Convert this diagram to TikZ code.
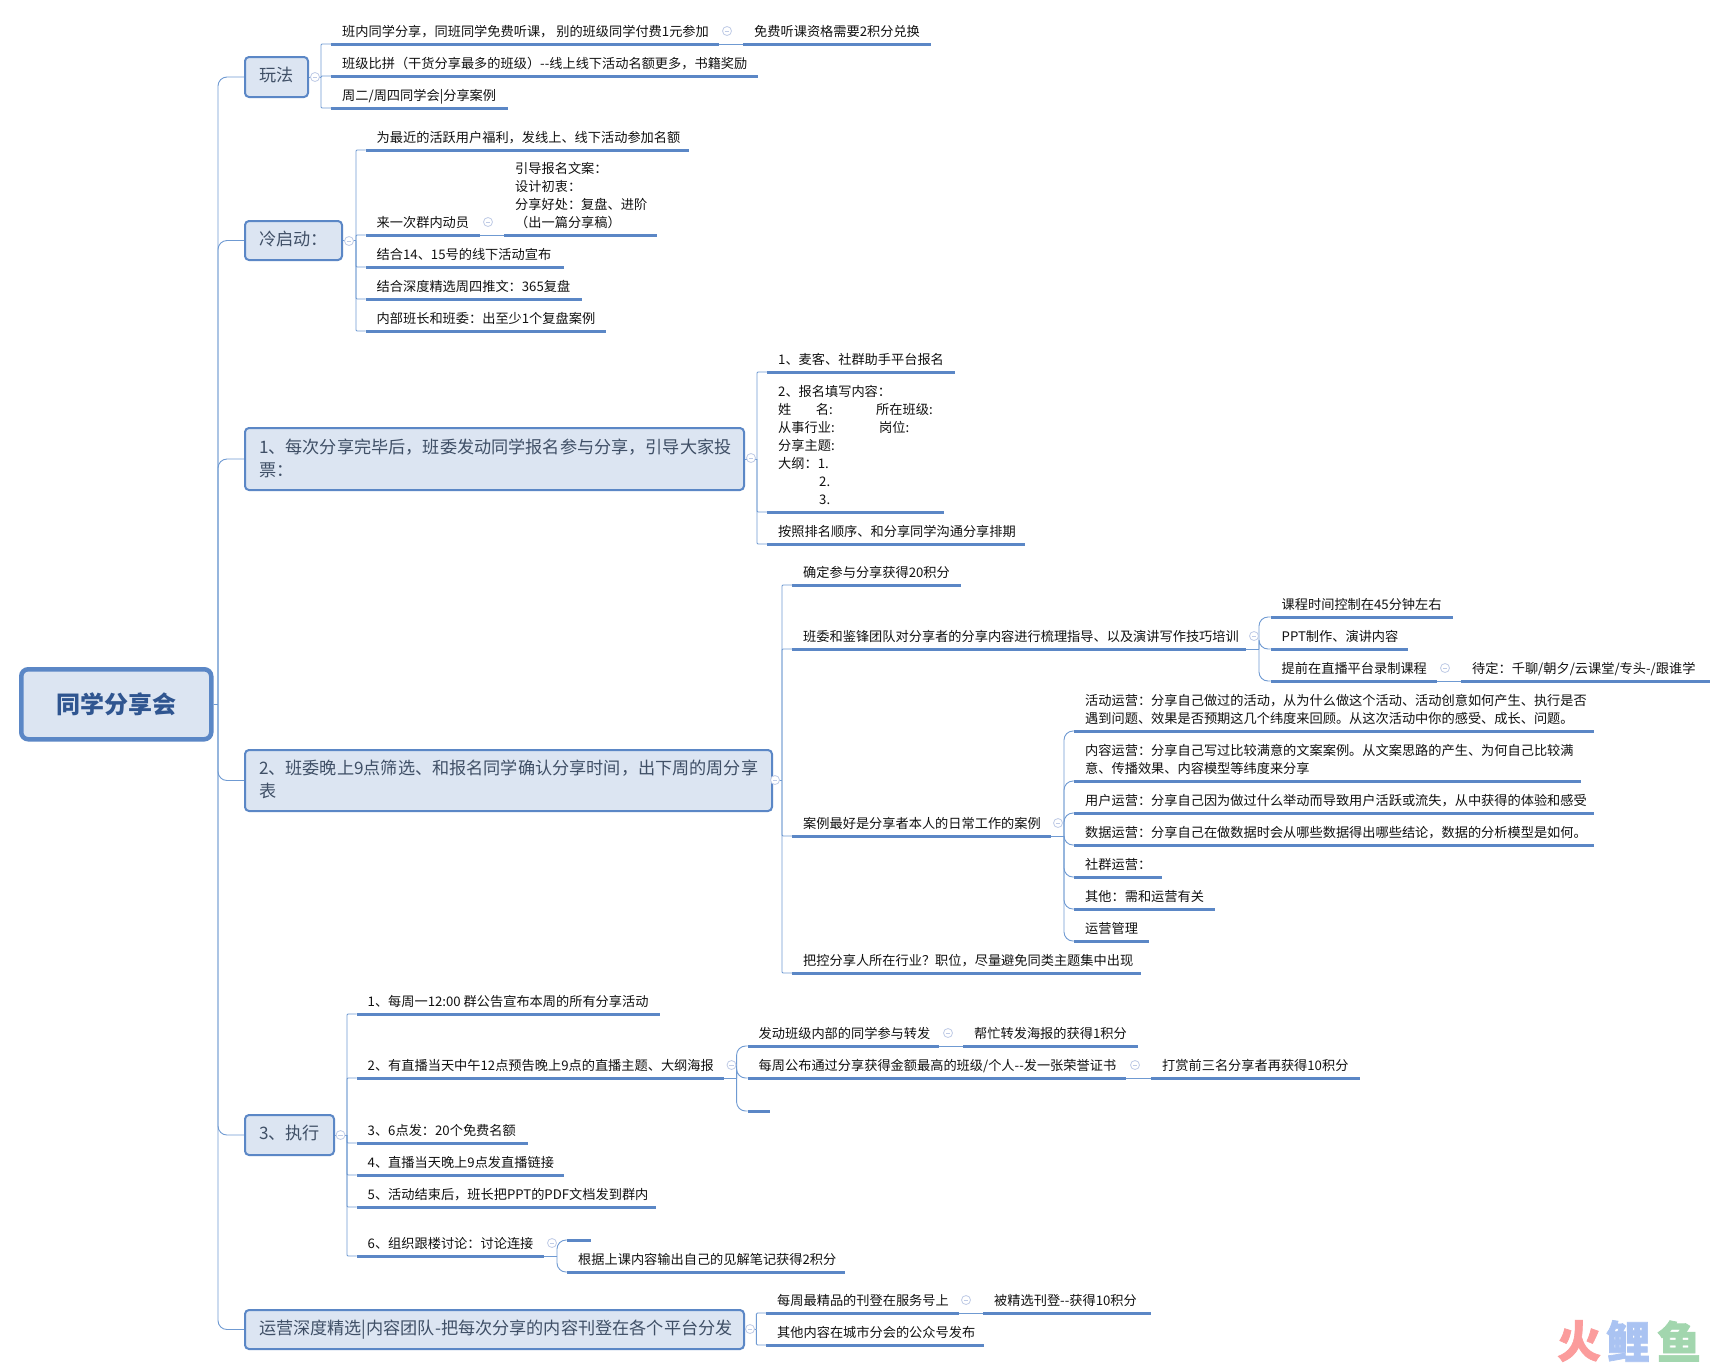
\documentclass[tikz,border=0pt]{standalone}
\usepackage{fontspec}
\setmainfont{Noto Sans CJK SC}
\definecolor{barblue}{HTML}{5B87C6}
\definecolor{linkblue}{HTML}{6F9AD2}
\definecolor{boxfill}{HTML}{DCE5F2}
\definecolor{boxtext}{HTML}{3F4F66}
\definecolor{roottext}{HTML}{2F5590}
\definecolor{leaftext}{HTML}{111111}
\definecolor{iconblue}{HTML}{BFCBE6}
\definecolor{wmred}{HTML}{FB9C9C}
\definecolor{wmblue}{HTML}{AAC3F2}
\definecolor{wmgreen}{HTML}{A2D6AE}
\tikzset{
  leafnode/.style={anchor=south west,inner xsep=0pt,inner ysep=1.6pt,text=leaftext,font=\fontsize{13.2}{18}\selectfont},
  barline/.style={draw=barblue,line width=3pt},
  conn/.style={draw=linkblue,line width=0.9pt},
  sharp/.style={conn,rounded corners=1pt},
  curved/.style={conn,rounded corners=9pt},
  topicbox/.style={draw=barblue,line width=2pt,fill=boxfill,rounded corners=4pt,anchor=north west,inner sep=0pt,text=boxtext,font=\fontsize{17.15}{23.3}\selectfont},
  rootbox/.style={draw=barblue,line width=4.5pt,fill=boxfill,rounded corners=7pt,anchor=north west,inner sep=0pt,text=roottext,font=\fontsize{24}{28}\selectfont\bfseries},
  iconnode/.style={circle,draw=iconblue,line width=0.8pt,fill=white,minimum size=9pt,inner sep=0pt},
  wmark/.style={text=#1,font=\fontsize{44}{44}\selectfont\bfseries\addfontfeature{FakeBold=1.5},inner sep=0pt}
}
\newcommand{\leafn}[5]{%
  \pgfmathsetmacro\mywd{#3-#2}%
  \node[leafnode] (#1) at (#2,#4) {\makebox[\mywd pt][l]{\hspace*{11pt}\begin{tabular}[b]{@{}l@{}}#5\end{tabular}}};
  \draw[barline] (#1.south west) -- (#1.south east);}
\newcommand{\topicn}[6]{%
  \pgfmathsetmacro\mywd{#3-#2}\pgfmathsetmacro\myht{#5-#4}%
  \node[topicbox,minimum width=\mywd pt,minimum height=\myht pt] (#1) at (#2,#4) {\makebox[\mywd pt][l]{\hspace*{14pt}\begin{tabular}[c]{@{}l@{}}#6\end{tabular}}};}
\newcommand{\iconn}[3]{%
  \node[iconnode] (#1) at (#2,#3) {};
  \draw[draw=iconblue,line width=0.8pt] ([xshift=-2.2pt]#1.center) -- ([xshift=2.2pt]#1.center);}
% style, parent point, trunk coordinate, child point
\newcommand{\linkn}[4]{\draw[conn] (#2) -- (#3 |- #2);\draw[#1] (#3 |- #2) -- (#3 |- #4) -- (#4);}
\begin{document}
\begin{tikzpicture}[x=1pt,y=-1pt]
\useasboundingbox (0,0) rectangle (1723,1366);
\fill[white] (0,0) rectangle (1723,1366);
% root and topics
\node[rootbox,minimum width=190pt,minimum height=70pt,align=center] (root) at (19,667) {同学分享会};
\topicn{t1}{244}{307}{56}{96}{玩法}
\topicn{t2}{244}{341}{220}{259}{冷启动：}
\topicn{t3}{244}{743}{427}{489}{\rule{0pt}{18.3pt}1、每次分享完毕后，班委发动同学报名参与分享，引导大家投\\票：}
\topicn{t4}{244}{771}{749}{810}{\rule{0pt}{18.3pt}2、班委晚上9点筛选、和报名同学确认分享时间，出下周的周分享\\表}
\topicn{t5}{244}{333}{1114}{1154}{3、执行}
\topicn{t6}{244}{743}{1309}{1348}{运营深度精选|内容团队-把每次分享的内容刊登在各个平台分发}
% group 1
\leafn{a1}{331}{719}{44}{班内同学分享，同班同学免费听课， 别的班级同学付费1元参加}
\leafn{a1x}{743}{931}{44}{免费听课资格需要2积分兑换}
\leafn{a2}{331}{758}{76}{班级比拼（干货分享最多的班级）-{}-线上线下活动名额更多，书籍奖励}
\leafn{a3}{331}{508}{108}{周二/周四同学会|分享案例}
% group 2
\leafn{b1}{365.5}{689}{150}{为最近的活跃用户福利，发线上、线下活动参加名额}
\leafn{b2}{365.5}{480}{235}{来一次群内动员}
\leafn{b2x}{504}{657}{235}{引导报名文案：\\设计初衷：\\分享好处：复盘、进阶\\（出一篇分享稿）}
\leafn{b3}{365.5}{564}{267}{结合14、15号的线下活动宣布}
\leafn{b4}{365.5}{582}{299}{结合深度精选周四推文：365复盘}
\leafn{b5}{365.5}{605.5}{331}{内部班长和班委：出至少1个复盘案例}
% group 3
\leafn{c1}{767}{955}{372}{1、麦客、社群助手平台报名}
\leafn{c2}{767}{944}{512}{2、报名填写内容：\\\makebox[98pt][l]{姓\hspace{24.4pt}名:}所在班级:\\\makebox[101pt][l]{从事行业:}岗位:\\分享主题:\\大纲：1.\\\hspace*{41pt}2.\\\hspace*{41pt}3.}
\leafn{c3}{767}{1025}{544}{按照排名顺序、和分享同学沟通分享排期}
% group 4
\leafn{d1}{792}{961}{585}{确定参与分享获得20积分}
\leafn{d2}{792}{1246}{649}{班委和鉴锋团队对分享者的分享内容进行梳理指导、以及演讲写作技巧培训}
\leafn{d21}{1270.5}{1453}{617}{课程时间控制在45分钟左右}
\leafn{d22}{1270.5}{1408}{649}{PPT制作、演讲内容}
\leafn{d23}{1270.5}{1437}{681}{提前在直播平台录制课程}
\leafn{d23x}{1461}{1710}{681}{待定：千聊/朝夕/云课堂/专头-/跟谁学}
\leafn{d3}{792}{1051}{836}{案例最好是分享者本人的日常工作的案例}
\leafn{d31}{1074}{1594}{731}{活动运营：分享自己做过的活动，从为什么做这个活动、活动创意如何产生、执行是否\\遇到问题、效果是否预期这几个纬度来回顾。从这次活动中你的感受、成长、问题。}
\leafn{d32}{1074}{1581}{781}{内容运营：分享自己写过比较满意的文案案例。从文案思路的产生、为何自己比较满\\意、传播效果、内容模型等纬度来分享}
\leafn{d33}{1074}{1594}{813}{用户运营：分享自己因为做过什么举动而导致用户活跃或流失，从中获得的体验和感受}
\leafn{d34}{1074}{1594}{845}{数据运营：分享自己在做数据时会从哪些数据得出哪些结论，数据的分析模型是如何。}
\leafn{d35}{1074}{1162}{877}{社群运营：}
\leafn{d36}{1074}{1215}{909}{其他：需和运营有关}
\leafn{d37}{1074}{1149}{941}{运营管理}
\leafn{d4}{792}{1141}{973}{把控分享人所在行业？职位，尽量避免同类主题集中出现}
% group 5
\leafn{e1}{356.5}{660}{1014}{1、每周一12:00 群公告宣布本周的所有分享活动}
\leafn{e2}{356.5}{724}{1078}{2、有直播当天中午12点预告晚上9点的直播主题、大纲海报}
\leafn{e21}{747.5}{939}{1046}{发动班级内部的同学参与转发}
\leafn{e21x}{963}{1138}{1046}{帮忙转发海报的获得1积分}
\leafn{e22}{747.5}{1126}{1078}{每周公布通过分享获得金额最高的班级/个人-{}-发一张荣誉证书}
\leafn{e22x}{1151}{1360}{1078}{打赏前三名分享者再获得10积分}
\leafn{e23}{747.5}{770}{1111}{}
\leafn{e3}{356.5}{528}{1143}{3、6点发：20个免费名额}
\leafn{e4}{356.5}{564}{1175}{4、直播当天晚上9点发直播链接}
\leafn{e5}{356.5}{656}{1207}{5、活动结束后，班长把PPT的PDF文档发到群内}
\leafn{e6}{356.5}{544}{1256}{6、组织跟楼讨论：讨论连接}
\leafn{e61}{567}{590.5}{1240}{}
\leafn{e62}{567}{845}{1272}{根据上课内容输出自己的见解笔记获得2积分}
% group 6
\leafn{f1}{766}{958.5}{1313}{每周最精品的刊登在服务号上}
\leafn{f1x}{983}{1151}{1313}{被精选刊登-{}-获得10积分}
\leafn{f2}{766}{984}{1345}{其他内容在城市分会的公众号发布}
% trunk coordinates
\coordinate (Tr) at (218,0);
\coordinate (Ta) at (321,0);
\coordinate (Tb) at (356,0);
\coordinate (Tc) at (757,0);
\coordinate (Td) at (782,0);
\coordinate (Td2) at (1259,0);
\coordinate (Td3) at (1064,0);
\coordinate (Te) at (347,0);
\coordinate (Te2) at (736.6,0);
\coordinate (Te6) at (557,0);
\coordinate (Tf) at (756.4,0);
% connectors
\foreach \n in {t1,t2,t3,t4,t5,t6} {\linkn{curved}{root.east}{Tr}{\n.west}}
\foreach \n in {a1,a2,a3} {\linkn{sharp}{t1.east}{Ta}{\n.south west}}
\draw[conn] (a1.south east) -- (a1x.south west);
\foreach \n in {b1,b2,b3,b4,b5} {\linkn{sharp}{t2.east}{Tb}{\n.south west}}
\draw[conn] (b2.south east) -- (b2x.south west);
\foreach \n in {c1,c2,c3} {\linkn{sharp}{t3.east}{Tc}{\n.south west}}
\foreach \n in {d1,d2,d3,d4} {\linkn{sharp}{t4.east}{Td}{\n.south west}}
\foreach \n in {d21,d22,d23} {\linkn{curved}{d2.south east}{Td2}{\n.south west}}
\draw[conn] (d23.south east) -- (d23x.south west);
\foreach \n in {d31,d32,d33,d34,d35,d36,d37} {\linkn{curved}{d3.south east}{Td3}{\n.south west}}
\foreach \n in {e1,e2,e3,e4,e5,e6} {\linkn{sharp}{t5.east}{Te}{\n.south west}}
\foreach \n in {e21,e22,e23} {\linkn{curved}{e2.south east}{Te2}{\n.south west}}
\draw[conn] (e21.south east) -- (e21x.south west);
\draw[conn] (e22.south east) -- (e22x.south west);
\foreach \n in {e61,e62} {\linkn{curved}{e6.south east}{Te6}{\n.south west}}
\foreach \n in {f1,f2} {\linkn{sharp}{t6.east}{Tf}{\n.south west}}
\draw[conn] (f1.south east) -- (f1x.south west);
% collapse icons
\iconn{i1}{315}{77}
\iconn{i2}{727}{31}
\iconn{i3}{349}{241}
\iconn{i4}{488}{222}
\iconn{i5}{751}{458}
\iconn{i6}{775}{780}
\iconn{i7}{1254}{636}
\iconn{i8}{1445}{668}
\iconn{i9}{1058}{823}
\iconn{i10}{340.5}{1135}
\iconn{i11}{731.5}{1065}
\iconn{i12}{948}{1033}
\iconn{i13}{1135}{1065}
\iconn{i14}{552}{1243}
\iconn{i15}{750}{1329}
\iconn{i16}{966}{1300}
% watermark
\node[wmark=wmred] (w1) at (1579,1341) {火};
\node[wmark=wmblue] (w2) at (1628,1341) {鲤};
\node[wmark=wmgreen] (w3) at (1679,1341) {鱼};
\end{tikzpicture}
\end{document}
